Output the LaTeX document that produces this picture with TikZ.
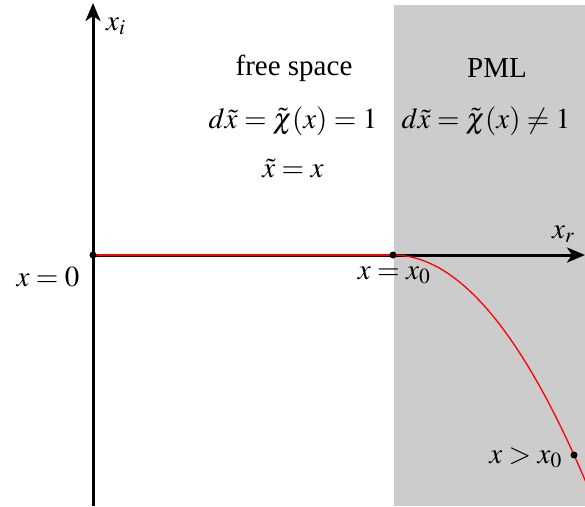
\documentclass[tikz,border=0pt]{standalone}
\usepackage{mathptmx}
\usepackage[no-math]{fontspec}
\setmainfont{Liberation Serif}
\usetikzlibrary{arrows.meta}
\tikzset{
  axisline/.style={line width=3pt,-{Stealth[length=18pt,width=15pt,inset=5pt]}},
  redpath/.style={red,line width=1.3pt},
  dotpt/.style={circle,fill=black,inner sep=0pt,minimum size=7pt},
  lbl/.style={inner sep=0pt,font=\fontsize{29}{34}\selectfont},
}
\begin{document}
\begin{tikzpicture}[x=1pt,y=-1pt]
\useasboundingbox (0,0) rectangle (585,506);
\fill[gray!40] (393.5,5) rectangle (585,506);
\coordinate (o) at (93,255);
\coordinate (itop) at (93,3);
\coordinate (ibot) at (93,506);
\coordinate (rend) at (585,255);
\draw[axisline] (ibot) -- (itop);
\draw[axisline] (o) -- (rend);
\coordinate (x0) at (393,255);
\draw[redpath] (o) -- (x0);
\begin{scope}
\clip (0,0) rectangle (585,506);
\draw[redpath] plot[domain=0:195,samples=80] ({393+\x},{255+0.0061*\x*\x});
\end{scope}
\node[dotpt] (d0) at (o) {};
\node[dotpt] (d1) at (x0) {};
\node[dotpt] (d2) at (574,455) {};
\node[lbl,anchor=base west] (xi) at (106,30) {$x_i$};
\node[lbl,anchor=base west] (xr) at (552,238) {$x_r$};
\node[lbl,anchor=base] (fs) at (294,75) {free space};
\node[lbl,anchor=base] (pml) at (497,77.5) {PML};
\node[lbl,anchor=base] (f1) at (293,128) {$d\tilde{x}=\tilde{\chi}(x)=1$};
\node[lbl,anchor=base] (f2) at (486,128) {$d\tilde{x}=\tilde{\chi}(x)\neq 1$};
\node[lbl,anchor=base] (f3) at (293,177) {$\tilde{x}=x$};
\node[lbl,anchor=base] (l0) at (48,286) {$x=0$};
\node[lbl,anchor=base] (l1) at (394,279) {$x=x_0$};
\node[lbl,anchor=base east] (l2) at (562,463) {$x>x_0$};
\end{tikzpicture}
\end{document}
